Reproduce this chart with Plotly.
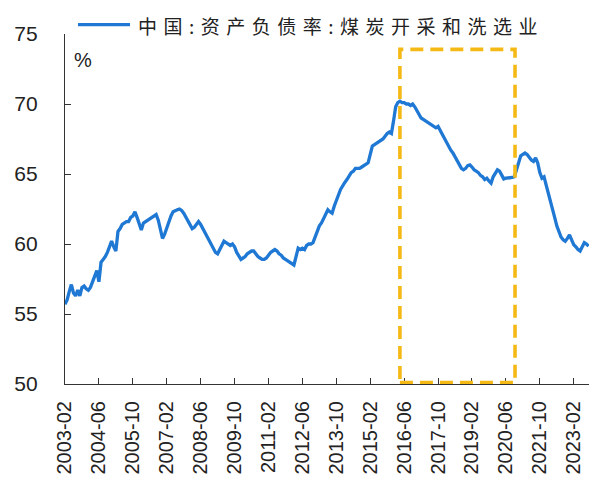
import plotly.graph_objects as go

# Monthly coal mining & washing industry debt-to-asset ratio (%), 2003-02 .. 2023-09
start_year, start_month = 2003, 2
ratio = [
    55.7, 56.0, 56.6, 57.1, 56.5, 56.3, 56.7, 56.3, 56.9, 57.0, 56.8,          # 2003-02..2003-12
    56.7, 56.9, 57.3, 57.6, 58.1, 57.3, 58.7, 58.9, 59.1, 59.4, 59.8, 60.2,    # 2004
    59.8, 59.5, 60.9, 61.1, 61.4, 61.5, 61.6, 61.6, 61.9, 62.0, 62.3, 61.9,    # 2005
    61.4, 61.0, 61.5, 61.6, 61.7, 61.8, 61.9, 62.0, 62.1, 61.7, 61.0, 60.4,    # 2006
    60.7, 61.2, 61.7, 62.0, 62.3, 62.4, 62.45, 62.5, 62.4, 62.2, 61.9, 61.6,   # 2007
    61.3, 61.1, 61.2, 61.4, 61.6, 61.4, 61.1, 60.8, 60.6, 60.3, 60.0, 59.7,    # 2008
    59.4, 59.3, 59.6, 60.0, 60.2, 60.1, 60.0, 59.9, 60.0, 59.8, 59.4, 59.1,    # 2009
    58.9, 59.0, 59.1, 59.3, 59.4, 59.5, 59.5, 59.3, 59.1, 59.0, 58.9, 58.9,    # 2010
    59.0, 59.2, 59.4, 59.5, 59.6, 59.5, 59.3, 59.2, 59.0, 58.9, 58.8, 58.7,    # 2011
    58.6, 58.5, 59.1, 59.7, 59.6, 59.7, 59.6, 59.9, 60.0, 60.0, 60.1, 60.5,    # 2012
    60.9, 61.3, 61.5, 61.8, 62.1, 62.45, 62.3, 62.2, 62.7, 63.05, 63.5, 63.9,  # 2013
    64.2, 64.4, 64.6, 64.9, 65.1, 65.2, 65.4, 65.4, 65.4, 65.5, 65.6, 65.7,    # 2014
    65.8, 66.4, 67.0, 67.1, 67.2, 67.3, 67.35, 67.5, 67.7, 67.9, 68.0, 67.9,   # 2015
    68.8, 69.8, 70.1, 70.2, 70.1, 70.1, 70.0, 70.0, 69.9, 70.0, 69.8, 69.5,    # 2016
    69.2, 69.0, 68.9, 68.8, 68.7, 68.6, 68.5, 68.4, 68.3, 68.4, 68.1, 67.9,    # 2017
    67.6, 67.3, 67.0, 66.7, 66.5, 66.2, 65.9, 65.7, 65.4, 65.3, 65.4, 65.6,    # 2018
    65.65, 65.5, 65.3, 65.2, 65.1, 64.9, 64.8, 64.6, 64.7, 64.5, 64.35, 64.8,  # 2019
    65.1, 65.3, 65.2, 64.9, 64.65, 64.7, 64.7, 64.7, 64.75, 64.8, 65.3, 66.0,  # 2020
    66.3, 66.4, 66.5, 66.4, 66.2, 66.0, 65.9, 66.15, 65.8, 65.1, 64.7, 64.8,   # 2021
    64.2, 63.65, 63.2, 62.6, 61.9, 61.3, 60.8, 60.5, 60.3, 60.2, 60.4, 60.65,  # 2022
    60.3, 59.95, 59.8, 59.6, 59.5, 59.8, 60.1, 60.0, 59.85,                    # 2023-01..2023-09
]

months = []
y, m = start_year, start_month
for _ in ratio:
    months.append(f"{y:04d}-{m:02d}")
    m += 1
    if m > 12:
        y, m = y + 1, 1

tick_labels = ["2003-02", "2004-06", "2005-10", "2007-02", "2008-06", "2009-10",
               "2011-02", "2012-06", "2013-10", "2015-02", "2016-06", "2017-10",
               "2019-02", "2020-06", "2021-10", "2023-02"]

series_name = "中国:资产负债率:煤炭开采和洗选业"
y_ticks = [50, 55, 60, 65, 70, 75]

# highlighted period (category positions) and its value span
box_x = [158, 212.3]
box_y = [50.1, 73.9]

line_color = "#1f78d3"
box_color = "#f5b916"
axis_color = "#333333"

fig = go.Figure()
fig.add_trace(go.Scatter(
    x=months, y=ratio, mode="lines", name=series_name,
    line=dict(color=line_color, width=3.3),
    showlegend=False,
))

fig.add_shape(type="rect", xref="x", yref="y",
              x0=box_x[0], x1=box_x[1], y0=box_y[0], y1=box_y[1],
              line=dict(color=box_color, width=3.6, dash="13px,7px"),
              layer="above")

# series key above the plot
fig.add_shape(type="line", xref="paper", yref="paper",
              x0=(78 - 65) / 524, x1=(130 - 65) / 524,
              y0=(384.3 - 25) / 350, y1=(384.3 - 25) / 350,
              line=dict(color=line_color, width=3.3))
fig.add_annotation(xref="paper", yref="paper",
                   x=(136 - 65) / 524, y=(384.3 - 26) / 350,
                   xanchor="left", yanchor="middle", showarrow=False,
                   text=f'<span style="letter-spacing:6.5px">{series_name}</span>',
                   font=dict(family="Noto Sans CJK SC", size=19, color="#222222"))

fig.add_annotation(xref="paper", yref="paper",
                   x=(72 - 65) / 524, y=(384.3 - 60) / 350,
                   xanchor="left", yanchor="middle", showarrow=False,
                   text="%",
                   font=dict(family="Liberation Sans", size=20, color="#222222"))

fig.update_xaxes(
    type="category",
    categoryorder="array", categoryarray=months,
    range=[0, len(months) - 1 + 0.2],
    tickmode="array", tickvals=tick_labels, ticktext=tick_labels,
    tickangle=-90,
    ticks="inside", ticklen=6, tickwidth=1, tickcolor=axis_color,
    showline=True, linecolor=axis_color, linewidth=1.2,
    showgrid=False, zeroline=False,
    ticklabelstandoff=8,
    tickfont=dict(family="Liberation Sans", size=20, color="#222222"),
)
fig.update_yaxes(
    range=[50, 75],
    tickmode="array", tickvals=y_ticks,
    ticks="inside", ticklen=6, tickwidth=1, tickcolor=axis_color,
    showline=True, linecolor=axis_color, linewidth=1.2,
    showgrid=False, zeroline=False,
    ticklabelstandoff=22,
    tickfont=dict(family="Liberation Sans", size=21, color="#222222"),
)

fig.update_layout(
    width=590, height=485,
    margin=dict(l=65, r=1, t=34, b=101),
    paper_bgcolor="white", plot_bgcolor="white",
)

fig.write_html("out.html")
